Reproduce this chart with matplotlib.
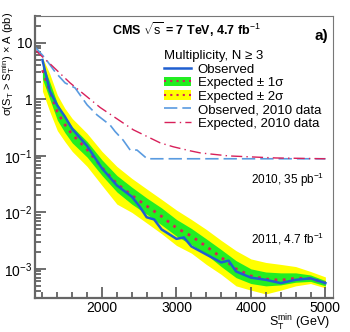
import matplotlib
matplotlib.use('Agg')
import matplotlib.pyplot as plt
import matplotlib.ticker as mticker
from matplotlib.patches import Patch
from matplotlib.lines import Line2D
import numpy as np

plt.rcParams['font.family'] = ['Liberation Sans', 'DejaVu Sans']
plt.rcParams['mathtext.fontset'] = 'custom'
plt.rcParams['mathtext.rm'] = 'Liberation Sans'
plt.rcParams['mathtext.it'] = 'Liberation Sans'
plt.rcParams['mathtext.bf'] = 'Liberation Sans:bold'

# 2011 limits, 4.7 fb-1
st_min = [1200, 1300, 1400, 1500, 1600, 1800, 2000, 2200, 2400, 2600, 2800,
          3000, 3200, 3400, 3600, 3800, 4000, 4200, 4400, 4600, 4800, 5000]
expected = [3.3, 1.4, 0.6, 0.36, 0.24, 0.13, 0.062, 0.032, 0.02, 0.013, 0.0085,
            0.0053, 0.0038, 0.0025, 0.0016, 0.0010, 0.00075, 0.00066, 0.00063,
            0.00068, 0.00068, 0.00056]
up_1s = [4.5, 2.0, 0.85, 0.5, 0.33, 0.18, 0.085, 0.045, 0.028, 0.018, 0.012,
         0.0075, 0.0052, 0.0034, 0.0022, 0.0014, 0.0010, 0.00088, 0.00085,
         0.00085, 0.00078, 0.00062]
lo_1s = [2.3, 1.0, 0.43, 0.26, 0.17, 0.095, 0.045, 0.023, 0.014, 0.0093, 0.006,
         0.0038, 0.0027, 0.0018, 0.0011, 0.0007, 0.00055, 0.00050, 0.00052,
         0.00058, 0.00060, 0.00050]
up_2s = [5.5, 2.8, 1.2, 0.7, 0.46, 0.25, 0.12, 0.065, 0.04, 0.026, 0.017,
         0.011, 0.0075, 0.005, 0.0032, 0.0021, 0.0015, 0.0013, 0.0012,
         0.0011, 0.0009, 0.00072]
lo_2s = [1.4, 0.6, 0.28, 0.18, 0.12, 0.065, 0.03, 0.014, 0.01, 0.0065, 0.0042,
         0.0026, 0.0019, 0.0012, 0.0008, 0.0005, 0.00042, 0.00036, 0.00042,
         0.00050, 0.00055, 0.00046]

obs_x = [1200, 1300, 1400, 1500, 1600, 1800, 2000, 2200, 2400, 2500, 2600, 2700,
         2800, 3000, 3100, 3200, 3400, 3600, 3700, 3800, 4000, 4200, 4400, 4600,
         4800, 5000]
observed = [5.0, 1.4, 0.78, 0.5, 0.3, 0.15, 0.06, 0.03, 0.019, 0.013, 0.0082,
            0.0075, 0.005, 0.0034, 0.0036, 0.0025, 0.0018, 0.0013, 0.0014,
            0.0009, 0.0007, 0.00064, 0.00056, 0.00064, 0.00068, 0.00056]

# 2010 results, 35 pb-1
x_2010 = [1100, 1235, 1370, 1504, 1638, 1800, 1934, 2110, 2176, 2284, 2378,
          2470, 2606, 5000]
obs_2010 = [8.5, 5.4, 3.07, 1.96, 1.6, 0.8, 0.53, 0.35, 0.27, 0.19, 0.127,
            0.127, 0.089, 0.089]
xe_2010 = [1100, 1300, 1571, 1975, 2420, 2782, 2958, 3185, 3320, 3700, 4330, 5000]
exp_2010 = [7.5, 4.3, 1.96, 0.72, 0.29, 0.17, 0.145, 0.123, 0.113, 0.1, 0.092, 0.089]

c_obs = '#1f5fd0'
c_obs10 = '#5a9be0'
c_exp = '#d8205a'
c_green = '#22ee22'
c_yellow = '#ffff00'

fig = plt.figure(figsize=(3.5, 3.32), dpi=100)
ax = fig.add_axes([0.1, 0.1024, 0.851, 0.8494])

ax.fill_between(st_min, lo_2s, up_2s, color=c_yellow, lw=0)
ax.fill_between(st_min, lo_1s, up_1s, color=c_green, lw=0)
ax.plot(st_min, expected, color=c_exp, ls=(0, (1, 2)), lw=2)
ax.plot(obs_x, observed, color=c_obs, lw=1.8)
ax.plot(x_2010, obs_2010, color=c_obs10, ls=(0, (8, 3)), lw=1.2)
ax.plot(xe_2010, exp_2010, color=c_exp, ls=(0, (8, 3, 1, 3)), lw=1.0)

ax.set_yscale('log')
ax.set_xlim(1100, 5100)
ax.set_ylim(3.05e-4, 30)

ax.xaxis.set_major_locator(mticker.FixedLocator([2000, 3000, 4000, 5000]))
ax.xaxis.set_minor_locator(mticker.MultipleLocator(200))
ax.yaxis.set_major_locator(mticker.LogLocator(base=10, numticks=10))
ax.yaxis.set_minor_locator(mticker.LogLocator(base=10, subs=np.arange(2, 10), numticks=10))

def yfmt(v, pos):
    e = int(round(np.log10(v)))
    if e == 0:
        return '1'
    if e == 1:
        return '10'
    return '$10^{%d}$' % e

ax.yaxis.set_major_formatter(mticker.FuncFormatter(yfmt))
ax.tick_params(which='both', direction='in', top=False, right=False,
               labelsize=10, color='#555555', width=1.2)
ax.tick_params(which='major', length=8, pad=2)
ax.tick_params(which='minor', length=4)
for s in ['left', 'bottom']:
    ax.spines[s].set_color('#666666')
    ax.spines[s].set_linewidth(1.6)
for s in ['top', 'right']:
    ax.spines[s].set_color('#777777')
    ax.spines[s].set_linewidth(0.8)

ax.set_ylabel('σ(S$_\\mathrm{T}$ > S$_\\mathrm{T}^\\mathrm{min}$) × A (pb)', fontsize=8)
ax.yaxis.set_label_coords(-0.06, 1.015, transform=ax.transAxes)
ax.yaxis.label.set_horizontalalignment('right')
ax.set_xlabel('S$_\\mathrm{T}^\\mathrm{min}$ (GeV)', fontsize=9)
ax.xaxis.set_label_coords(0.99, -0.054)
ax.xaxis.label.set_horizontalalignment('right')

ax.text(0.507, 0.95, 'CMS $\\sqrt{s}$ = 7 TeV, 4.7 fb$^{-1}$', transform=ax.transAxes,
        fontsize=9, fontweight='bold', ha='center', va='center')
ax.text(0.985, 0.93, 'a)', transform=ax.transAxes, fontsize=11,
        fontweight='bold', ha='right', va='center')
ax.text(0.725, 0.418, '2010, 35 pb$^{-1}$', transform=ax.transAxes,
        fontsize=8.5, ha='left', va='center')
ax.text(0.725, 0.209, '2011, 4.7 fb$^{-1}$', transform=ax.transAxes,
        fontsize=8.5, ha='left', va='center')

handles = [
    Line2D([], [], color=c_obs, lw=1.8),
    (Patch(facecolor=c_green, lw=0), Line2D([], [], color=c_exp, ls=(0, (1, 2)), lw=1.5)),
    (Patch(facecolor=c_yellow, lw=0), Line2D([], [], color=c_exp, ls=(0, (1, 2)), lw=1.5)),
    Line2D([], [], color=c_obs10, ls=(0, (8, 3)), lw=1.2),
    Line2D([], [], color=c_exp, ls=(0, (8, 3, 1, 3)), lw=1.0),
]
labels = ['Observed', 'Expected ± 1σ', 'Expected ± 2σ',
          'Observed, 2010 data', 'Expected, 2010 data']
leg = ax.legend(handles, labels, loc='upper left', bbox_to_anchor=(0.433, 0.88),
                frameon=False, fontsize=9.5, title='Multiplicity, N ≥ 3',
                title_fontsize=9.5, handlelength=2.05, handletextpad=0.5,
                handleheight=0.75, labelspacing=0.08, borderaxespad=0, borderpad=0)
leg._legend_box.align = 'left'
leg._legend_box.sep = 1

fig.savefig('out.png', dpi=100)
